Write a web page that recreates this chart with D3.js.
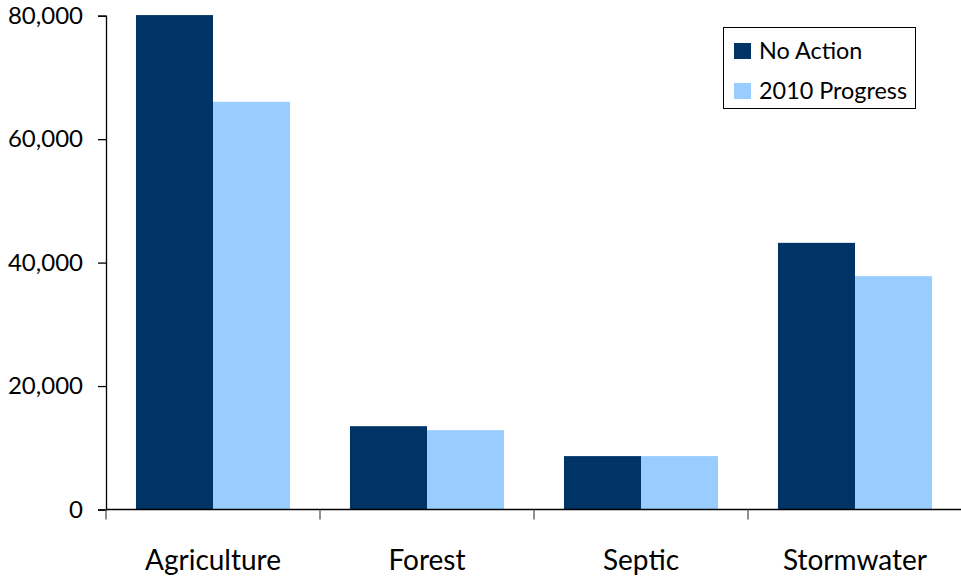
<!DOCTYPE html>
<html>
<head>
<meta charset="utf-8">
<script src="https://cdn.jsdelivr.net/npm/d3@7"></script>
<style>
  html, body { margin: 0; padding: 0; background: #fff; }
  svg { display: block; font-family: Lato, "Open Sans", sans-serif; }
</style>
</head>
<body>
<svg id="chart" width="961" height="576"></svg>
<script>
// Loads by source sector under two scenarios
const categories = ["Agriculture", "Forest", "Septic", "Stormwater"];
const seriesNames = ["No Action", "2010 Progress"];
const noAction = [80100, 13500, 8650, 43200];
const progress2010 = [66050, 12850, 8650, 37800];
const yTicks = [0, 20000, 40000, 60000, 80000];
const colors = ["#003366", "#99CCFF"];
const fontFamily = "Lato, 'Open Sans', sans-serif";

const svg = d3.select("#chart");
const plotLeft = 106, plotRight = 962, plotTop = 15.7, plotBottom = 509.5;

const x = d3.scaleBand().domain(categories).range([plotLeft, plotRight])
  .paddingInner(0.28).paddingOuter(0.14);
const xs = d3.scaleBand().domain(seriesNames).range([0, x.bandwidth()]);
const y = d3.scaleLinear().domain([0, 80000]).range([plotBottom, plotTop]);

const rows = categories.map((c, i) => ({ cat: c, vals: [noAction[i], progress2010[i]] }));

// Bars
const groups = svg.append("g").selectAll("g").data(rows).join("g")
  .attr("transform", d => `translate(${x(d.cat)},0)`);
groups.selectAll("rect").data(d => d.vals.map((v, j) => ({ v, s: seriesNames[j], j })))
  .join("rect")
  .attr("x", d => xs(d.s))
  .attr("width", xs.bandwidth())
  .attr("y", d => y(d.v))
  .attr("height", d => y(0) - y(d.v))
  .attr("fill", d => colors[d.j]);

// Y axis
const yAxis = svg.append("g").attr("transform", `translate(${plotLeft},0)`)
  .call(d3.axisLeft(y).tickValues(yTicks).tickFormat(d3.format(",")).tickSize(8).tickPadding(15));
yAxis.attr("font-family", fontFamily);
yAxis.select(".domain").attr("stroke", "#000").attr("stroke-width", 1.3);
yAxis.selectAll(".tick line").attr("stroke", "#000").attr("stroke-width", 1.3);
yAxis.selectAll("text").attr("font-size", 24).attr("fill", "#000");

// X axis: baseline, category boundary ticks and labels
const step = x.step();
const boundaries = d3.range(categories.length + 1).map(i => plotLeft + i * step);
const xg = svg.append("g");
xg.append("line").attr("x1", plotLeft).attr("x2", plotRight).attr("y1", y(0)).attr("y2", y(0))
  .attr("stroke", "#000").attr("stroke-width", 1.3);
xg.selectAll("line.b").data(boundaries).join("line").attr("class", "b")
  .attr("x1", d => d).attr("x2", d => d).attr("y1", y(0)).attr("y2", y(0) + 10)
  .attr("stroke", "#555").attr("stroke-width", 1.3);
xg.selectAll("text").data(categories).join("text")
  .attr("x", d => x(d) + x.bandwidth() / 2)
  .attr("y", 570)
  .attr("text-anchor", "middle")
  .attr("font-size", 28)
  .attr("fill", "#000")
  .text(d => d);

// Legend
const lg = svg.append("g");
lg.append("rect").attr("x", 723.5).attr("y", 27.5).attr("width", 192).attr("height", 81)
  .attr("fill", "#fff").attr("stroke", "#000").attr("stroke-width", 1);
seriesNames.forEach((s, i) => {
  lg.append("rect").attr("x", 734).attr("y", 43 + i * 40).attr("width", 17).attr("height", 16)
    .attr("fill", colors[i]);
  lg.append("text").attr("x", 759).attr("y", 59 + i * 40)
    .attr("font-size", 23.4).attr("fill", "#000").text(s);
});
</script>
</body>
</html>
